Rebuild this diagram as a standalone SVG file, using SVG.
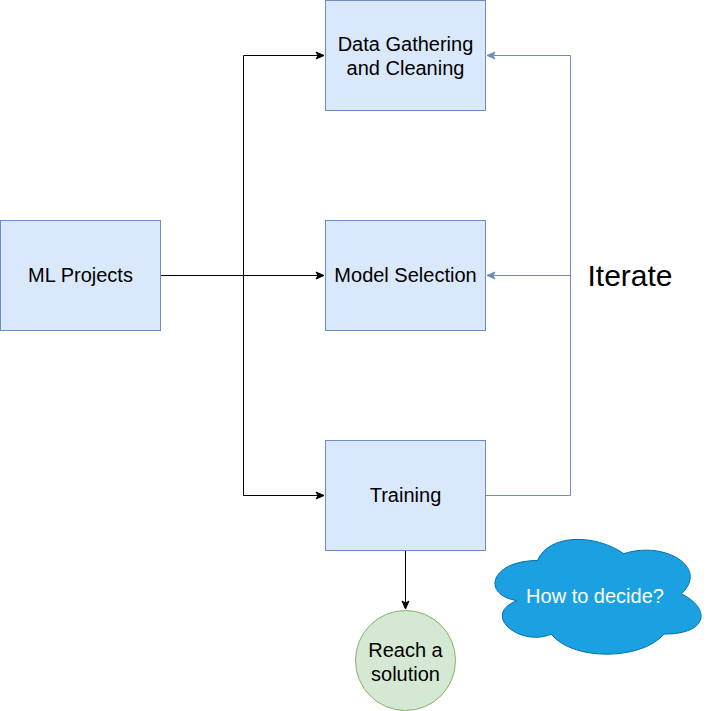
<svg xmlns="http://www.w3.org/2000/svg" width="711" height="711" viewBox="0 0 711 711">
<defs>
<style>
.box{fill:#dae8fc;stroke:#6c8ebf;stroke-width:1}
.t{font-family:"Liberation Sans",Arial,sans-serif;font-size:20px;fill:#000;text-anchor:middle}
.k{fill:none;stroke:#000;stroke-width:1}
.b{fill:none;stroke:#6c8ebf;stroke-width:1}
</style>
<marker id="ak" markerWidth="10" markerHeight="10" refX="9" refY="5" orient="auto" markerUnits="userSpaceOnUse">
<path d="M1,1.5 L9,5 L1,8.5 L3,5 Z" fill="#000" stroke="#000" stroke-width="1"/>
</marker>
<marker id="ab" markerWidth="10" markerHeight="10" refX="9" refY="5" orient="auto" markerUnits="userSpaceOnUse">
<path d="M1,1.5 L9,5 L1,8.5 L3,5 Z" fill="#6c8ebf" stroke="#6c8ebf" stroke-width="1"/>
</marker>
</defs>
<rect width="711" height="711" fill="#fff"/>
<g id="connectors">
<path class="k" d="M160.5,275.5 L243.5,275.5 L243.5,55.5 L324,55.5" marker-end="url(#ak)"/>
<path class="k" d="M243.5,275.5 L324,275.5" marker-end="url(#ak)"/>
<path class="k" d="M243.5,275.5 L243.5,495.5 L324,495.5" marker-end="url(#ak)"/>
<path class="k" d="M405.5,550.5 L405.5,609" marker-end="url(#ak)"/>
<path class="b" d="M485.5,495.5 L570.5,495.5 L570.5,55.5 L487,55.5" marker-end="url(#ab)"/>
<path class="b" d="M570.5,275.5 L487,275.5" marker-end="url(#ab)"/>
</g>
<g id="ml-projects">
<rect class="box" x="0.5" y="220.5" width="160" height="110"/>
<text class="t" x="80.5" y="282">ML Projects</text>
</g>
<g id="data-gathering">
<rect class="box" x="325.5" y="0.5" width="160" height="110"/>
<text class="t" x="405.5" y="51">Data Gathering</text>
<text class="t" x="405.5" y="75">and Cleaning</text>
</g>
<g id="model-selection">
<rect class="box" x="325.5" y="220.5" width="160" height="110"/>
<text class="t" x="405.5" y="282">Model Selection</text>
</g>
<g id="training">
<rect class="box" x="325.5" y="440.5" width="160" height="110"/>
<text class="t" x="405.5" y="502">Training</text>
</g>
<g id="solution">
<circle cx="405.5" cy="660.5" r="50" fill="#d5e8d4" stroke="#82b366" stroke-width="1"/>
<text class="t" x="405.5" y="657">Reach a</text>
<text class="t" x="405.5" y="681">solution</text>
</g>
<g id="iterate">
<text class="t" x="630" y="286" style="font-size:30px">Iterate</text>
</g>
<g id="cloud">
<path d="M537.5,560.5 C491.5,560.5 480,594 516.8,600.7 C480,615.4 521.4,647.5 551.3,634.1 C572,660.9 641,660.9 664,634.1 C710,634.1 710,607.3 681.3,593.9 C710,567.1 664,540.3 623.8,553.7 C595,533.6 549,533.6 537.5,560.5 Z" fill="#1ba1e2" stroke="#006eaf" stroke-width="1"/>
<text class="t" x="595" y="603" style="fill:#fff">How to decide?</text>
</g>
</svg>
